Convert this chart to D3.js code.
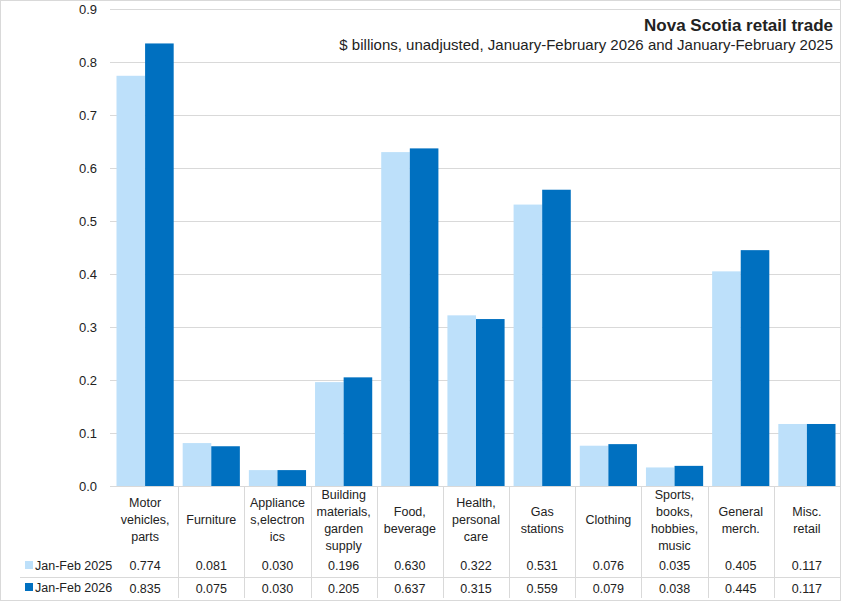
<!DOCTYPE html>
<html><head><meta charset="utf-8">
<script src="https://cdn.jsdelivr.net/npm/d3@7"></script>
<style>body{margin:0;background:#fff}svg{display:block}text{font-family:"Liberation Sans",Arial,sans-serif;fill:#222}</style>
</head><body>
<script>
const categories = ["Motor vehicles, parts","Furniture","Appliances,electronics","Building materials, garden supply","Food, beverage","Health, personal care","Gas stations","Clothing","Sports, books, hobbies, music","General merch.","Misc. retail"];
const categoryLines = [["Motor","vehicles,","parts"],["Furniture"],["Appliance","s,electron","ics"],["Building","materials,","garden","supply"],["Food,","beverage"],["Health,","personal","care"],["Gas","stations"],["Clothing"],["Sports,","books,","hobbies,","music"],["General","merch."],["Misc.","retail"]];
const seriesNames = ["Jan-Feb 2025","Jan-Feb 2026"];
const values2025 = [0.774,0.081,0.030,0.196,0.630,0.322,0.531,0.076,0.035,0.405,0.117];
const values2026 = [0.835,0.075,0.030,0.205,0.637,0.315,0.559,0.079,0.038,0.445,0.117];
const yTicks = [0,0.1,0.2,0.3,0.4,0.5,0.6,0.7,0.8,0.9];
const colors = ["#BDE0FA","#0070C0"];
const series = [values2025, values2026];

const W=841,H=601;
const svg=d3.select("body").append("svg").attr("width",W).attr("height",H);
svg.append("rect").attr("x",0.5).attr("y",0.5).attr("width",W-1).attr("height",H-1).attr("fill","#fff").attr("stroke","#d9d9d9");

const x=d3.scaleBand().domain(categories).range([112,840]).padding(0);
const xi=d3.scaleBand().domain(seriesNames).range([4.5,x.bandwidth()-4.5]).padding(0);
const y=d3.scaleLinear().domain([0,0.9]).range([486,9]);

// gridlines
svg.append("g").selectAll("line").data(yTicks).join("line")
 .attr("x1",110).attr("x2",840).attr("y1",d=>Math.round(y(d))+0.5).attr("y2",d=>Math.round(y(d))+0.5)
 .attr("stroke","#d9d9d9");

// y axis labels
const ya=d3.axisLeft(y).tickValues(yTicks).tickFormat(d3.format(".1f")).tickSize(0).tickPadding(13);
const yg=svg.append("g").attr("transform","translate(110,0)").call(ya);
yg.select(".domain").remove();
yg.selectAll("text").attr("font-size",13).attr("fill","#222").style("font-family","Liberation Sans, Arial, sans-serif");

// bars
seriesNames.forEach((s,si)=>{
  svg.append("g").selectAll("rect").data(categories).join("rect")
   .attr("x",c=>x(c)+xi(s)).attr("width",xi.bandwidth())
   .attr("y",(c,i)=>y(series[si][i])).attr("height",(c,i)=>y(0)-y(series[si][i]))
   .attr("fill",colors[si]);
});

// table
const tRow0=486, tRow2=577, tBot=598;
const tg=svg.append("g");
categories.forEach((c,i)=>{
  const bx=x(c)+x.bandwidth();
  if(i<categories.length-1) tg.append("line").attr("x1",Math.round(bx)+0.5).attr("x2",Math.round(bx)+0.5).attr("y1",tRow0).attr("y2",tBot).attr("stroke","#d9d9d9");
});
tg.append("line").attr("x1",20).attr("x2",840).attr("y1",tRow2+0.5).attr("y2",tRow2+0.5).attr("stroke","#d9d9d9");

categories.forEach((c,i)=>{
  const cx=x(c)+x.bandwidth()/2;
  const lines=categoryLines[i];
  const lh=17, mid=520;
  const t=tg.append("text").attr("text-anchor","middle").attr("font-size",12.5);
  lines.forEach((l,j)=>{
    t.append("tspan").attr("x",cx).attr("y",mid+(j-(lines.length-1)/2)*lh+4).text(l);
  });
  series.forEach((vals,si)=>{
    tg.append("text").attr("x",cx).attr("y",si===0?570:593).attr("text-anchor","middle").attr("font-size",12.5).text(d3.format(".3f")(vals[i]));
  });
});
seriesNames.forEach((s,si)=>{
  const yy=si===0?566:588;
  tg.append("rect").attr("x",25).attr("y",yy-5).attr("width",8).attr("height",8).attr("fill",colors[si]);
  tg.append("text").attr("x",35).attr("y",yy+4).attr("font-size",12.5).text(s);
});

// titles
svg.append("text").attr("x",833).attr("y",31).attr("text-anchor","end").attr("font-size",17).attr("font-weight","bold").attr("fill","#111").text("Nova Scotia retail trade");
svg.append("text").attr("x",833).attr("y",50).attr("text-anchor","end").attr("font-size",15).attr("fill","#111").text("$ billions, unadjusted, January-February 2026 and January-February 2025");
</script>
</body></html>
